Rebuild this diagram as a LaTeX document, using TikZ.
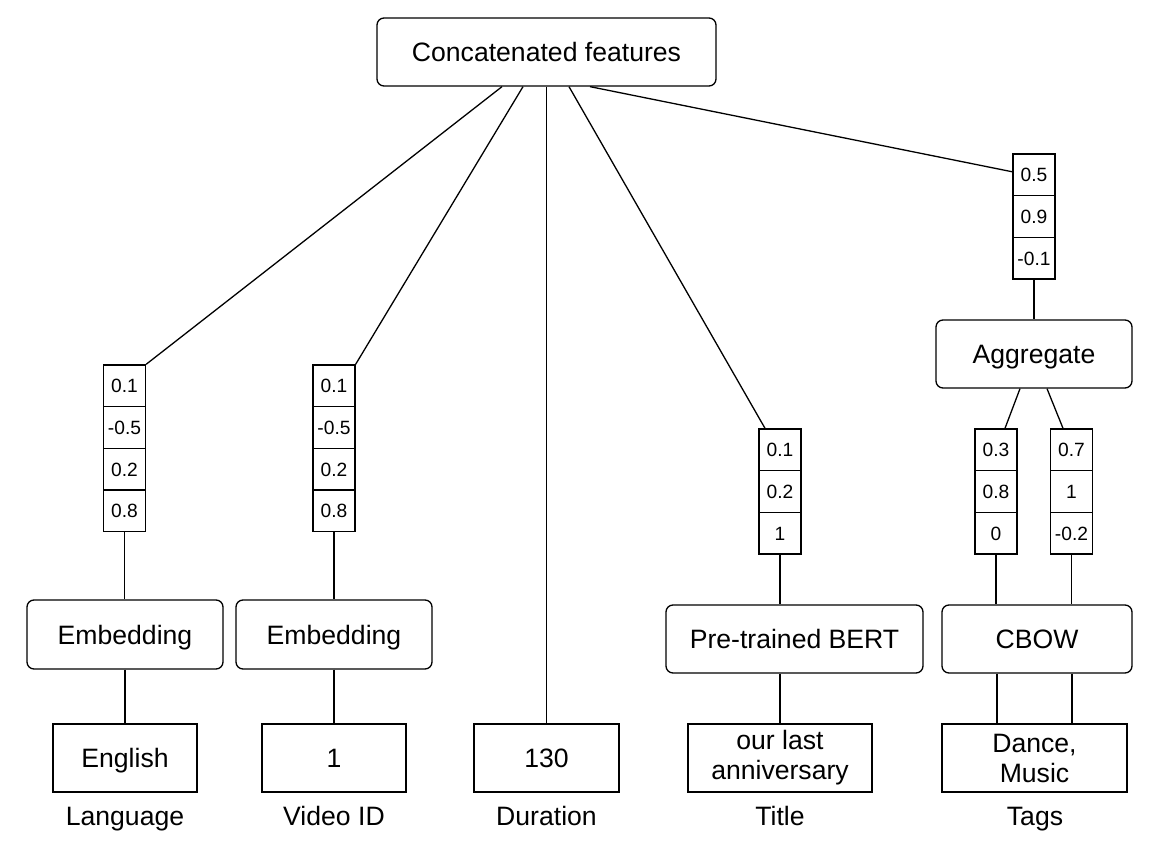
\documentclass[tikz,border=0pt]{standalone}
\usepackage{fontspec}
\setmainfont{Liberation Sans}
\usetikzlibrary{calc}
\tikzset{
  rbox/.style={draw, rounded corners=3.5pt, inner sep=0pt, minimum height=34pt, text height=9.5pt, text depth=0pt, font=\fontsize{13.3}{15}\selectfont},
  sbox/.style={draw, inner sep=0pt, minimum height=34pt, minimum width=72pt, text height=9.5pt, text depth=0pt, font=\fontsize{13.3}{15}\selectfont},
  mbox/.style={draw, inner sep=0pt, minimum height=34pt, align=center, font=\fontsize{13.3}{15}\selectfont},
  cell/.style={draw, inner sep=0pt, minimum width=21pt, minimum height=20.85pt, text height=6.9pt, text depth=0pt, font=\fontsize{9.6}{11}\selectfont},
  lbl/.style={inner sep=0pt, anchor=base, font=\fontsize{13.3}{15}\selectfont},
  link/.style={draw, line width=0.65pt},
}
\begin{document}
\begin{tikzpicture}[x=0.5pt, y=-0.5pt, line width=0.65pt]
\useasboundingbox (0,0) rectangle (1152,862);
% top
\node[rbox, minimum width=169.5pt] (top) at (546.5,52) {Concatenated features};
% language column
\node[cell] (l1) at (124.5,385.8) {0.1};
\node[cell] (l2) at (124.5,427.5) {-0.5};
\node[cell] (l3) at (124.5,469.2) {0.2};
\node[cell] (l4) at (124.5,510.9) {0.8};
\node[rbox, minimum width=98pt, minimum height=34.5pt] (emb1) at (125,634.5) {Embedding};
\node[sbox] (eng) at (125,758) {English};
\node[lbl] (lang) at (125,825) {Language};
% video column
\node[cell] (v1) at (334,385.8) {0.1};
\node[cell] (v2) at (334,427.5) {-0.5};
\node[cell] (v3) at (334,469.2) {0.2};
\node[cell] (v4) at (334,510.9) {0.8};
\node[rbox, minimum width=98pt, minimum height=34.5pt] (emb2) at (334,634.5) {Embedding};
\node[sbox] (vid) at (334,758) {1};
\node[lbl] (vidl) at (334,825) {Video ID};
% duration
\node[sbox, minimum width=72.5pt] (dur) at (546.5,758) {130};
\node[lbl] (durl) at (546.5,825) {Duration};
% title column
\node[cell] (t1) at (780,449.8) {0.1};
\node[cell] (t2) at (780,491.5) {0.2};
\node[cell] (t3) at (780,533.2) {1};
\node[rbox, minimum width=128.5pt] (bert) at (794.5,639) {Pre-trained BERT};
\node[mbox, minimum width=92pt] (title) at (780,758) {\raisebox{-1.5pt}{our last}\\\raisebox{-1.5pt}{anniversary}};
\node[lbl] (titlel) at (780,825) {Title};
% tags column
\node[cell] (g1) at (1034,174.8) {0.5};
\node[cell] (g2) at (1034,216.5) {0.9};
\node[cell] (g3) at (1034,258.2) {-0.1};
\node[rbox, minimum width=98pt] (agg) at (1034,354) {Aggregate};
\node[cell] (a1) at (996,449.8) {0.3};
\node[cell] (a2) at (996,491.5) {0.8};
\node[cell] (a3) at (996,533.2) {0};
\node[cell] (b1) at (1071.5,449.8) {0.7};
\node[cell] (b2) at (1071.5,491.5) {1};
\node[cell] (b3) at (1071.5,533.2) {-0.2};
\node[rbox, minimum width=95pt] (cbow) at (1037,639) {CBOW};
\node[mbox, minimum width=92.5pt] (tags) at (1034.5,758) {\raisebox{-1.5pt}{Dance,}\\\raisebox{-1.5pt}{Music}};
\node[lbl] (tagsl) at (1035,825) {Tags};
% connectors from top
\draw[link] ($(top.south)+(-44.5,0)$) -- (l1.north east);
\draw[link] ($(top.south)+(-23.5,0)$) -- (v1.north east);
\draw[link] (top.south) -- (top.south |- dur.north);
\draw[link] ($(top.south)+(22.5,0)$) -- ($(t1.north)+(-15,0)$);
\draw[link] ($(top.south)+(43.5,0)$) -- ($(g1.west)+(0,-3)$);
% language
\draw[link] (l4.south) -- (l4.south |- emb1.north);
\draw[link] (emb1.south) -- (eng.north);
% video
\draw[link] (v4.south) -- (v4.south |- emb2.north);
\draw[link] (emb2.south) -- (vid.north);
% title
\draw[link] (t3.south) -- (t3.south |- bert.north);
\draw[link] (title.north |- bert.south) -- (title.north);
% tags
\draw[link] (g3.south) -- (agg.north);
\draw[link] ($(agg.south)+(-14,0)$) -- ($(a1.north)+(9,0)$);
\draw[link] ($(agg.south)+(13,0)$) -- ($(b1.north)+(-8.5,0)$);
\draw[link] (a3.south) -- (a3.south |- cbow.north);
\draw[link] (b3.south) -- (b3.south |- cbow.north);
\draw[link] ($(a3.south |- cbow.south)+(1,0)$) -- ($(a3.south |- tags.north)+(1,0)$);
\draw[link] ($(b3.south |- cbow.south)+(0.5,0)$) -- ($(b3.south |- tags.north)+(0.5,0)$);
\end{tikzpicture}
\end{document}
